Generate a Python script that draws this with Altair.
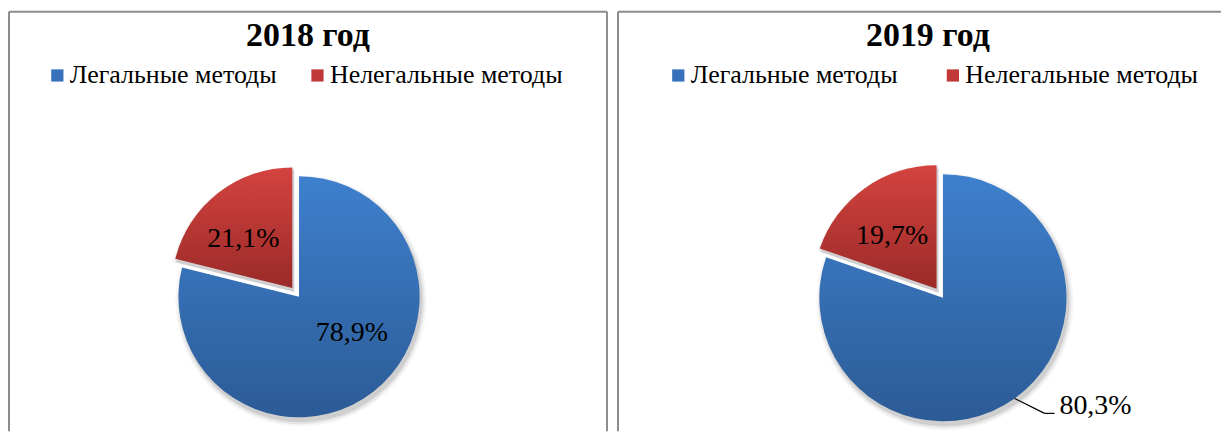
import altair as alt
import pandas as pd

# ---------------- data ----------------
years = ["2018 год", "2019 год"]
categories = ["Легальные методы", "Нелегальные методы"]
values_2018 = [78.9, 21.1]
values_2019 = [80.3, 19.7]

# ---------------- styles ----------------
FONT = "Liberation Serif, 'DejaVu Serif', serif"
BORDER = "#8C8C8C"
BLUE_SOLID = "#3871BB"
RED_SOLID = "#C03837"
BLUE_GRAD = alt.Gradient(
    gradient="linear", x1=0, x2=0, y1=0, y2=1,
    stops=[alt.GradientStop(offset=0, color="#3E80CD"),
           alt.GradientStop(offset=1, color="#2C5B96")],
)
RED_GRAD = alt.Gradient(
    gradient="linear", x1=0, x2=0, y1=0, y2=1,
    stops=[alt.GradientStop(offset=0, color="#D4433F"),
           alt.GradientStop(offset=1, color="#9A2A28")],
)
GRADS = [BLUE_GRAD, RED_GRAD]


def fmt(v):
    return f"{v:.1f}".replace(".", ",") + "%"


def panel(values, title, W, H, title_x, cx, cy, R, explode, leg_sym_x,
          leg_y, inside, outside, right_border):
    df = pd.DataFrame({
        "cat": categories,
        "value": values,
        "idx": list(range(len(values))),
        "label": [fmt(v) for v in values],
    })
    base = (
        alt.Chart(df)
        .transform_window(end="sum(value)", sort=[alt.SortField("idx")],
                          frame=[None, 0])
        .transform_calculate(
            start="datum.end - datum.value",
            mid="datum.end - datum.value / 2",
        )
        .transform_calculate(ang="2 * PI * datum.mid / 100")
        .transform_calculate(
            acx=f"{cx} + (datum.idx == 1 ? {explode} * sin(datum.ang) : 0)",
            acy=f"{cy} - (datum.idx == 1 ? {explode} * cos(datum.ang) : 0)",
        )
    )
    theta = alt.Theta("start:Q", scale=alt.Scale(domain=[0, 100]))
    theta2 = alt.Theta2("end:Q")

    layers = []
    # panel border (its bottom edge is cut off in the picture)
    one = alt.Chart(pd.DataFrame({"k": [0]}))
    layers.append(one.mark_rule(color=BORDER, strokeWidth=2).encode(
        x=alt.value(0), x2=alt.value(W), y=alt.value(0)))
    layers.append(one.mark_rule(color=BORDER, strokeWidth=2).encode(
        x=alt.value(0), y=alt.value(0), y2=alt.value(H)))
    if right_border:
        layers.append(one.mark_rule(color=BORDER, strokeWidth=2).encode(
            x=alt.value(W), y=alt.value(0), y2=alt.value(H)))

    # soft drop shadow
    shadow = base.transform_calculate(sx="datum.acx + 2", sy="datum.acy + 4")
    for rad, op in [(R + 1, 0.10), (R + 3, 0.06), (R + 5, 0.035)]:
        layers.append(
            shadow.mark_arc(fill="black", opacity=op, outerRadius=rad)
            .encode(theta=theta, theta2=theta2,
                    x=alt.X("sx:Q", scale=None), y=alt.Y("sy:Q", scale=None))
        )
    # slices
    for i in range(len(values)):
        layers.append(
            base.transform_filter(f"datum.idx == {i}")
            .mark_arc(fill=GRADS[i], outerRadius=R)
            .encode(theta=theta, theta2=theta2,
                    x=alt.X("acx:Q", scale=None), y=alt.Y("acy:Q", scale=None))
        )
    # labels inside slices
    for i, (r, dx, dy) in inside.items():
        layers.append(
            base.transform_filter(f"datum.idx == {i}")
            .mark_text(font=FONT, fontSize=28, color="black", align="center",
                       baseline="middle", dx=dx, dy=dy)
            .encode(theta=alt.Theta("mid:Q", scale=alt.Scale(domain=[0, 100])),
                    radius=alt.value(r),
                    x=alt.X("acx:Q", scale=None), y=alt.Y("acy:Q", scale=None),
                    text="label:N")
        )
    # outside label with leader line
    if outside is not None:
        i, ddx, ddy, hlen = outside
        lead = (
            base.transform_filter(f"datum.idx == {i}")
            .transform_calculate(
                x1=f"datum.acx + {R} * sin(datum.ang)",
                y1=f"datum.acy - {R} * cos(datum.ang)",
            )
            .transform_calculate(x2=f"datum.x1 + {ddx}", y2=f"datum.y1 + {ddy}")
            .transform_calculate(x3=f"datum.x2 + {hlen}")
        )
        layers.append(
            lead.mark_rule(color="black", strokeWidth=1.2)
            .encode(x=alt.X("x1:Q", scale=None), y=alt.Y("y1:Q", scale=None),
                    x2="x2:Q", y2="y2:Q")
        )
        layers.append(
            lead.mark_rule(color="black", strokeWidth=1.2)
            .encode(x=alt.X("x2:Q", scale=None), y=alt.Y("y2:Q", scale=None),
                    x2="x3:Q", y2="y2:Q")
        )
        layers.append(
            lead.mark_text(font=FONT, fontSize=28, color="black", align="left",
                           baseline="alphabetic", dx=5, dy=1)
            .encode(x=alt.X("x3:Q", scale=None), y=alt.Y("y2:Q", scale=None),
                    text="label:N")
        )
    # panel title
    layers.append(
        alt.Chart(pd.DataFrame({"t": [title]}))
        .mark_text(font=FONT, fontSize=34, fontWeight="bold", color="black",
                   align="center", baseline="alphabetic")
        .encode(x=alt.value(title_x), y=alt.value(34), text="t:N")
    )
    # legend: square swatch + label for each category
    leg = base.transform_calculate(
        lx=f"datum.idx == 0 ? {leg_sym_x[0]} : {leg_sym_x[1]}",
        ly=f"{leg_y}",
    )
    layers.append(
        leg.mark_square(size=150, filled=True, opacity=1)
        .encode(x=alt.X("lx:Q", scale=None), y=alt.Y("ly:Q", scale=None),
                color=alt.Color("cat:N",
                                scale=alt.Scale(domain=categories,
                                                range=[BLUE_SOLID, RED_SOLID]),
                                legend=None))
    )
    layers.append(
        leg.mark_text(font=FONT, fontSize=26, color="black",
                      align="left", baseline="alphabetic", dx=12.5, dy=8)
        .encode(x=alt.X("lx:Q", scale=None), y=alt.Y("ly:Q", scale=None),
                text="cat:N")
    )
    return alt.layer(*layers).properties(width=W, height=H)


left = panel(values_2018, years[0], W=600, H=421, title_x=300, cx=291, cy=286,
             R=121, explode=11, leg_sym_x=(48.5, 309.5), leg_y=64,
             inside={1: (70, -6, 6), 0: (65, 13, -15)}, outside=None,
             right_border=True)
right = panel(values_2019, years[1], W=605, H=421, title_x=311, cx=326, cy=287,
              R=124, explode=11, leg_sym_x=(60.5, 336), leg_y=64,
              inside={1: (70, -4, 4)}, outside=(0, 30, 15, 10),
              right_border=False)

chart = (
    alt.hconcat(left, right, spacing=9)
    .resolve_scale(color="independent", theta="independent")
    .properties(padding={"left": 0, "top": 2, "right": 0, "bottom": 0},
                background="white")
    .configure_view(stroke=None)
)

chart.save("out.html", embed_options={"renderer": "svg", "actions": False})
